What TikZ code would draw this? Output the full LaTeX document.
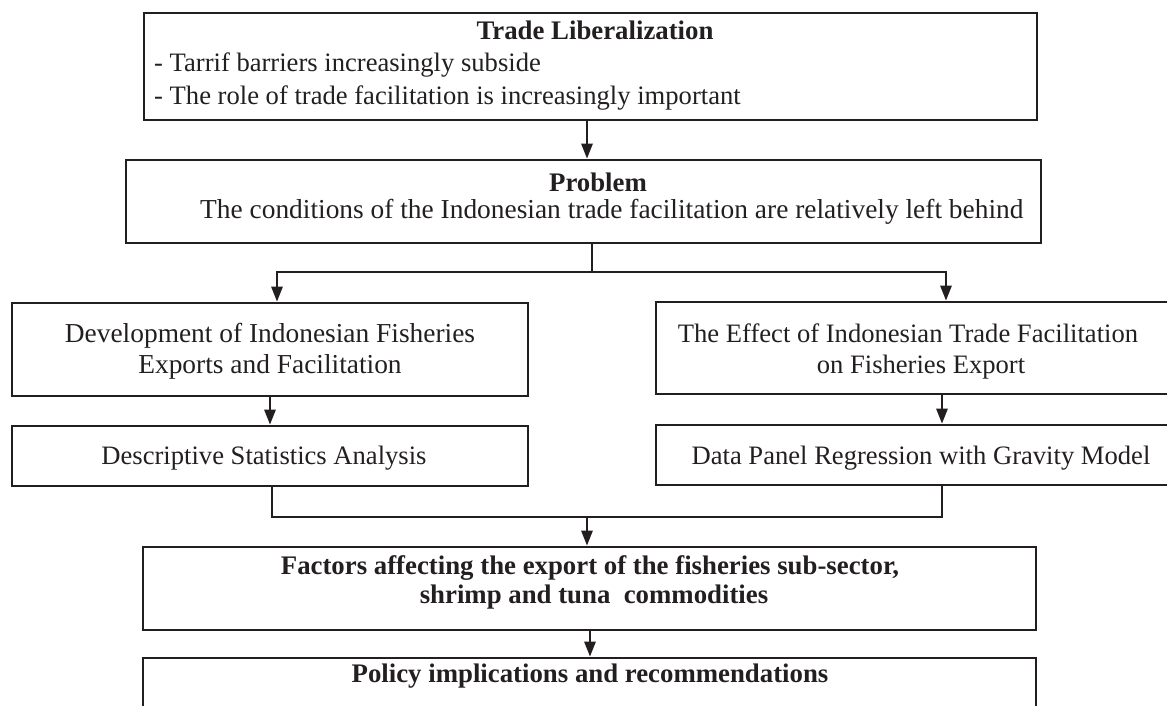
\documentclass[tikz,border=0pt]{standalone}
\usepackage{fontspec}
\setmainfont{Liberation Serif}
\usetikzlibrary{arrows.meta}
\definecolor{ink}{HTML}{231F20}
\begin{document}
\begin{tikzpicture}[x=1pt,y=-1pt,
  frame/.style={draw=ink,line width=2.6pt,inner sep=0pt,fill=none},
  txt/.style={inner sep=0pt,anchor=base,text=ink,font=\fontsize{26.6}{30}\selectfont},
  txtl/.style={txt,anchor=base west},
  big/.style={font=\fontsize{27.4}{30}\selectfont},
  bold/.style={font=\fontsize{26.8}{30}\selectfont\bfseries},
  ln/.style={draw=ink,line width=2.6pt},
  arr/.style={ln,-{Triangle[length=15pt,width=11pt]}}]
\useasboundingbox (0,0) rectangle (1167,706);
\clip (0,0) rectangle (1167,706);

% boxes: centre, width, height
\node[frame,minimum width=893pt,minimum height=107pt] (tl)   at (590.5,66.5) {};
\node[frame,minimum width=915pt,minimum height=83pt]  (pb)   at (583.5,201.5) {};
\node[frame,minimum width=516pt,minimum height=93pt]  (dev)  at (270,349.5) {};
\node[frame,minimum width=516pt,minimum height=60pt]  (desc) at (270,456) {};
\node[frame,minimum width=524pt,minimum height=92pt]  (eff)  at (918,348) {};
\node[frame,minimum width=524pt,minimum height=60pt]  (reg)  at (918,455) {};
\node[frame,minimum width=893pt,minimum height=83pt]  (fac)  at (589.5,588.5) {};
\node[frame,minimum width=893pt,minimum height=80pt]  (pol)  at (589.5,698) {};

% texts
\node[txt,bold] (tlA) at (595,40) {Trade Liberalization};
\node[txtl] (tlB) at (154,72) {- Tarrif barriers increasingly subside};
\node[txtl] (tlC) at (154,105) {- The role of trade facilitation is increasingly important};
\node[txt,bold] (pbA) at (598,191) {Problem};
\node[txtl,big] (pbB) at (200,218) {The conditions of the Indonesian trade facilitation are relatively left behind};
\node[txt,big] (devA) at (270,342) {Development of Indonesian Fisheries};
\node[txt,big] (devB) at (270,373) {Exports and Facilitation};
\node[txt] (descA) at (264,464) {Descriptive Statistics Analysis};
\node[txt] (effA) at (908,342) {The Effect of Indonesian Trade Facilitation};
\node[txt] (effB) at (921,373) {on Fisheries Export};
\node[txt] (regA) at (921,464) {Data Panel Regression with Gravity Model};
\node[txt,bold] (facA) at (590,574) {Factors affecting the export of the fisheries sub-sector,};
\node[txt,bold] (facB) at (594,603) {shrimp and tuna\ \ commodities};
\node[txt,bold] (polA) at (590,682) {Policy implications and recommendations};

% connector positions
\coordinate (c1) at (587,0);
\coordinate (br) at (592,272);
\coordinate (dl) at (277,0);
\coordinate (dr) at (946,0);
\coordinate (c2) at (270,0);
\coordinate (c3) at (942,0);
\coordinate (m1) at (272,0);
\coordinate (mg) at (587,517);
\coordinate (c4) at (590,0);

% connectors
\draw[arr] (tl.south -| c1) -- (pb.north -| c1);
\draw[ln] (pb.south -| br) -- (br);
\draw[arr] (br) -| (dev.north -| dl);
\draw[arr] (br) -| (eff.north -| dr);
\draw[arr] (dev.south -| c2) -- (desc.north -| c2);
\draw[arr] (eff.south -| c3) -- (reg.north -| c3);
\draw[ln] (desc.south -| m1) |- (mg) -| (reg.south -| c3);
\draw[arr] (mg) -- (fac.north -| mg);
\draw[arr] (fac.south -| c4) -- (pol.north -| c4);
\end{tikzpicture}
\end{document}
